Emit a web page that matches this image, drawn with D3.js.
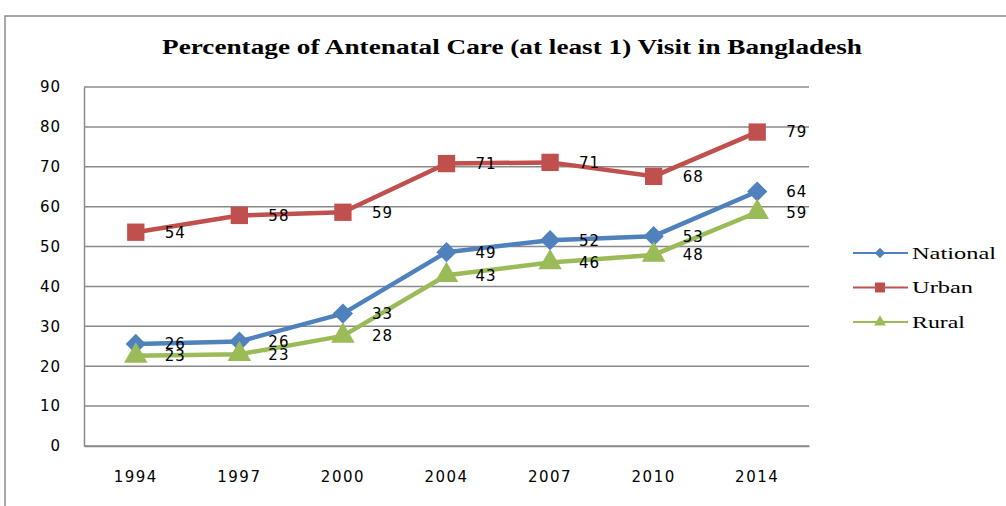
<!DOCTYPE html>
<html><head><meta charset="utf-8">
<script src="https://cdn.jsdelivr.net/npm/d3@7/dist/d3.min.js"></script>
<style>body{margin:0;background:#fff}svg{display:block}</style>
</head><body>
<svg id="c" width="1006" height="506"></svg>
<script>
const categories = ["1994","1997","2000","2004","2007","2010","2014"];
const national = [25.6, 26.2, 33.2, 48.6, 51.6, 52.6, 63.8];
const urban    = [53.6, 57.8, 58.6, 70.8, 71.1, 67.6, 78.7];
const rural    = [22.6, 23.0, 27.6, 42.8, 46.0, 47.9, 58.6];
const yTicks = [0,10,20,30,40,50,60,70,80,90];
const seriesNames = ["National","Urban","Rural"];
const title = "Percentage of Antenatal Care (at least 1) Visit in Bangladesh";

const series = [
  {name: seriesNames[0], values: national, color: "#4F81BD", shape: d3.symbolDiamond2, size: 260, lsize: 70},
  {name: seriesNames[1], values: urban,    color: "#C0504D", shape: d3.symbolSquare,   size: 300, lsize: 100},
  {name: seriesNames[2], values: rural,    color: "#9BBB59", shape: d3.symbolTriangle, size: 240, lsize: 60}
];

const svg = d3.select("#c");
const L = 84, R = 809, T = 87, B = 446;

// outer frame
svg.append("rect").attr("x",5).attr("y",16).attr("width",1100).attr("height",600)
  .attr("fill","none").attr("stroke","#8c8c8c").attr("stroke-width",1.5);

svg.append("text").attr("x",512).attr("y",54).attr("text-anchor","middle")
  .attr("font-family","Liberation Serif, serif").attr("font-weight","bold").attr("font-size",20)
  .attr("textLength",700).attr("lengthAdjust","spacingAndGlyphs").attr("fill","#000").text(title);

const x = d3.scaleBand().domain(categories).range([L,R]);
const y = d3.scaleLinear().domain([0,90]).range([B,T]);

// gridlines
svg.append("g").selectAll("line").data(yTicks).join("line")
  .attr("x1",L).attr("x2",R).attr("y1",d=>y(d)).attr("y2",d=>y(d))
  .attr("stroke","#8a8a8a").attr("stroke-width",1.5);

// y axis
const yAxis = svg.append("g").attr("transform",`translate(${L},0)`)
  .call(d3.axisLeft(y).tickValues(yTicks).tickSize(0).tickPadding(23));
yAxis.select(".domain").attr("stroke","#8a8a8a").attr("stroke-width",1.5);
yAxis.selectAll("text").attr("font-family","DejaVu Sans, sans-serif").attr("font-size",15)
  .attr("letter-spacing","1px").attr("fill","#000");

// x axis
const xAxis = svg.append("g").attr("transform",`translate(0,${B})`)
  .call(d3.axisBottom(x).tickSize(0).tickPadding(25));
xAxis.select(".domain").attr("stroke","#8a8a8a").attr("stroke-width",1.5);
xAxis.selectAll("text").attr("font-family","DejaVu Sans, sans-serif").attr("font-size",15)
  .attr("letter-spacing","1.5px").attr("fill","#000");

const cx = c => x(c) + x.bandwidth()/2;
const line = d3.line().x((d,i)=>cx(categories[i])).y(d=>y(d));

series.forEach(s => {
  const g = svg.append("g");
  g.append("path").datum(s.values).attr("d",line).attr("fill","none")
    .attr("stroke",s.color).attr("stroke-width",4.5).attr("stroke-linejoin","round");
  g.selectAll("path.m").data(s.values).join("path").attr("class","m")
    .attr("d", d3.symbol().type(s.shape).size(s.size))
    .attr("transform",(d,i)=>`translate(${cx(categories[i])},${y(d)})`)
    .attr("fill",s.color);
});
series.forEach(s => {
  svg.append("g").selectAll("text").data(s.values).join("text")
    .attr("x",(d,i)=>cx(categories[i])+29).attr("y",d=>y(d)).attr("dy","0.36em")
    .attr("font-family","DejaVu Sans, sans-serif").attr("font-size",15)
    .attr("letter-spacing","1px").attr("fill","#000")
    .text(d=>d3.format(".0f")(d));
});

// legend
const lg = svg.append("g");
series.forEach((s,i) => {
  const ly = 253 + i*34.5;
  lg.append("line").attr("x1",853).attr("x2",908).attr("y1",ly).attr("y2",ly)
    .attr("stroke",s.color).attr("stroke-width",2);
  lg.append("path").attr("d",d3.symbol().type(s.shape).size(s.lsize))
    .attr("transform",`translate(880,${ly})`).attr("fill",s.color);
  lg.append("text").attr("x",912).attr("y",ly).attr("dy","0.33em")
    .attr("font-family","Liberation Serif, serif").attr("font-size",17).attr("fill","#000")
    .attr("textLength",[84,61,53][i]).attr("lengthAdjust","spacingAndGlyphs").text(s.name);
});
</script>
</body></html>
